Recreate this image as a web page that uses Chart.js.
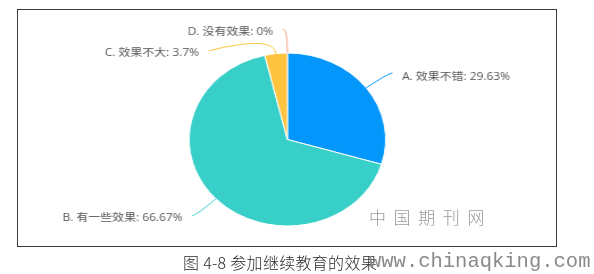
<!DOCTYPE html>
<html>
<head>
<meta charset="utf-8">
<script src="https://cdn.jsdelivr.net/npm/chart.js@4.4.1/dist/chart.umd.min.js"></script>
<style>
  body { margin:0; width:594px; height:274px; overflow:hidden; background:#fff; position:relative; }
  #frame { position:absolute; left:17px; top:9px; width:538px; height:236px; border:1.5px solid #3a3a3a; }
  #chart { position:absolute; left:0; top:0; transform-origin:0 0; transform:scaleX(1.136); }
  .txt { position:absolute; white-space:nowrap; }
  #caption { left:183px; top:253px; font:300 16px "Noto Sans CJK SC", sans-serif; line-height:18px; color:#2a2a2a; letter-spacing:0.3px; }
  #wm1 { left:369px; top:208px; font:300 17px "Noto Sans CJK SC", sans-serif; line-height:18px; color:#9a9a9a; letter-spacing:7.6px; }
  #wm2 { left:369px; top:250px; font:20.5px "Liberation Mono", monospace; line-height:24px; color:#8a8a8a; }
</style>
</head>
<body>
<div id="frame"></div>
<canvas id="chart" width="506" height="274"></canvas>
<div class="txt" id="wm1">中国期刊网</div>
<div class="txt" id="caption">图 4-8 参加继续教育的效果</div>
<div class="txt" id="wm2">www.chinaqking.com</div>
<script>
// data
var labels = ["A. 效果不错", "B. 有一些效果", "C. 效果不大", "D. 没有效果"];
var values = [29.63, 66.67, 3.7, 0];
var colors = ["#0397fb", "#39cfc9", "#fec43f", "#f9a489"];

// leader lines (canvas px, before the horizontal stretch)
var leader = [
    {len1: 25,   len2: 3,  dy: 0,  ty: 4, side: 1},
    {len1: 24.5, len2: 3,  dy: 0,  ty: 2, side: -1},
    {len1: 19,   len2: 57, dy: 16, ty: 2, side: -1},
    {len1: 24,   len2: 4,  dy: 0,  ty: 3, side: -1}
];

var calloutPlugin = {
    id: 'callout',
    afterDatasetsDraw: function(chart) {
        var ctx = chart.ctx;
        var meta = chart.getDatasetMeta(0);
        ctx.save();
        ctx.font = '10.5px "Open Sans", "Noto Sans CJK SC", sans-serif';
        ctx.textBaseline = 'middle';
        meta.data.forEach(function(arc, i) {
            var p = arc.getProps(['x', 'y', 'startAngle', 'endAngle', 'outerRadius'], true);
            var mid = (p.startAngle + p.endAngle) / 2;
            var L = leader[i];
            var x0 = p.x + Math.cos(mid) * p.outerRadius;
            var y0 = p.y + Math.sin(mid) * p.outerRadius;
            var x1 = x0 + Math.cos(mid) * L.len1;
            var y1 = y0 + Math.sin(mid) * L.len1;
            var x2 = x1 + L.side * L.len2;
            var y2 = y1 + L.dy;
            ctx.strokeStyle = colors[i];
            ctx.lineWidth = 1;
            ctx.beginPath();
            ctx.moveTo(x0, y0);
            ctx.quadraticCurveTo(x1, y1, x2, y2);
            ctx.stroke();
            ctx.fillStyle = '#555';
            ctx.textAlign = L.side > 0 ? 'left' : 'right';
            ctx.fillText(labels[i] + ': ' + values[i] + '%', x2 + L.side * 8.5, y2 + L.ty);
        });
        ctx.restore();
    }
};

new Chart(document.getElementById('chart').getContext('2d'), {
    type: 'pie',
    data: {
        labels: labels,
        datasets: [{
            data: values,
            backgroundColor: colors,
            borderColor: '#fff',
            borderWidth: 1
        }]
    },
    options: {
        responsive: false,
        devicePixelRatio: 1,
        animation: false,
        layout: { padding: { top: 52.5, bottom: 47.5 } },
        plugins: {
            legend: { display: false },
            tooltip: { enabled: false }
        }
    },
    plugins: [calloutPlugin]
});
</script>
</body>
</html>
